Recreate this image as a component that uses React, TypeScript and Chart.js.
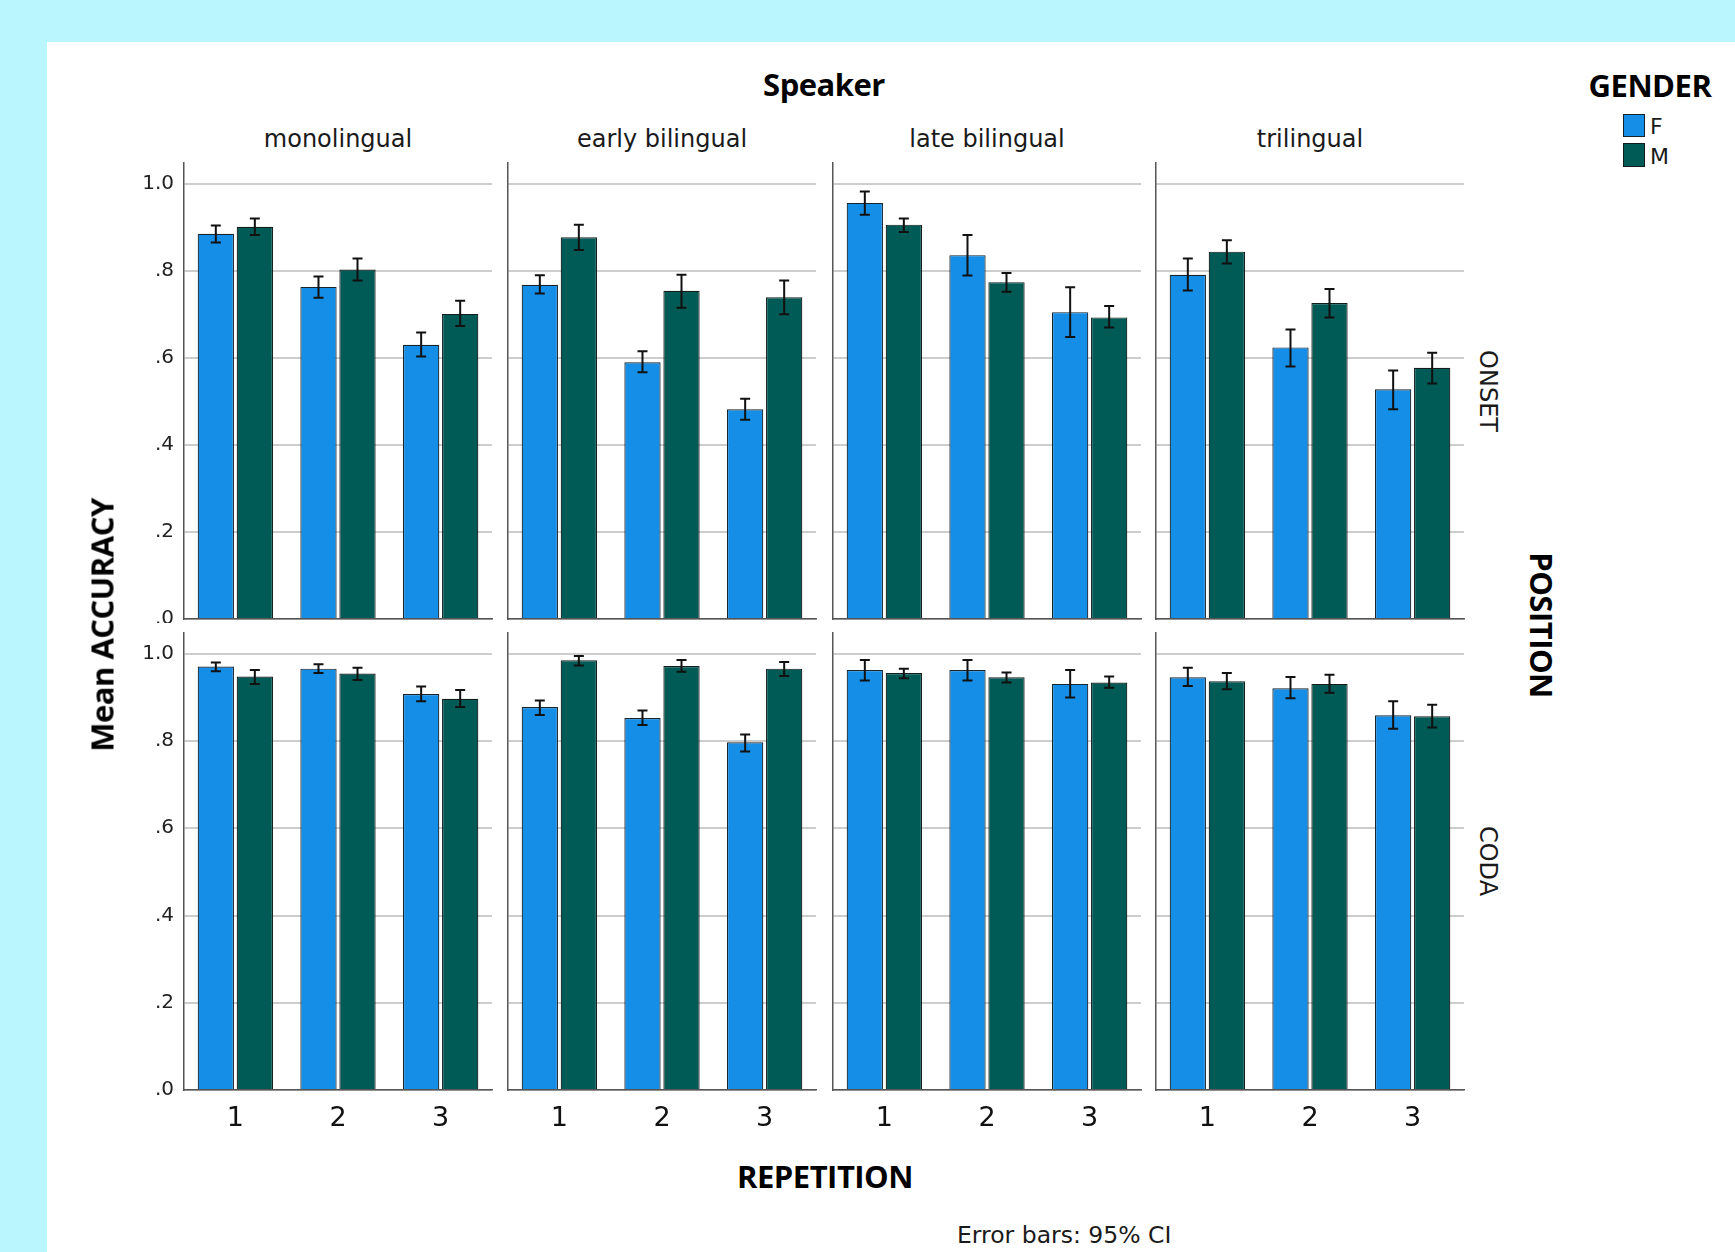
import React, { useEffect, useRef } from "react";
import { Chart, registerables } from "chart.js";

Chart.register(...registerables);

// ---------- data ----------
const speakers = ["monolingual", "early bilingual", "late bilingual", "trilingual"];
const positions = ["ONSET", "CODA"];
const repetitions = ["1", "2", "3"];
const genders = ["F", "M"];
const yTicks = [0, 0.2, 0.4, 0.6, 0.8, 1.0];

// ONSET, per speaker, per repetition
const onsetFMean = [[0.885, 0.763, 0.630], [0.768, 0.590, 0.482], [0.956, 0.836, 0.705], [0.791, 0.624, 0.528]];
const onsetFLow = [[0.865, 0.738, 0.603], [0.748, 0.567, 0.458], [0.929, 0.789, 0.648], [0.755, 0.580, 0.482]];
const onsetFHigh = [[0.904, 0.787, 0.658], [0.790, 0.615, 0.506], [0.982, 0.882, 0.762], [0.828, 0.665, 0.571]];
const onsetMMean = [[0.901, 0.803, 0.701], [0.877, 0.754, 0.739], [0.906, 0.774, 0.693], [0.844, 0.726, 0.577]];
const onsetMLow = [[0.882, 0.778, 0.673], [0.848, 0.715, 0.700], [0.889, 0.752, 0.670], [0.817, 0.693, 0.541]];
const onsetMHigh = [[0.920, 0.828, 0.731], [0.906, 0.791, 0.778], [0.920, 0.795, 0.719], [0.870, 0.758, 0.612]];

// CODA, per speaker, per repetition
const codaFMean = [[0.971, 0.966, 0.908], [0.878, 0.853, 0.797], [0.963, 0.963, 0.931], [0.946, 0.921, 0.859]];
const codaFLow = [[0.960, 0.956, 0.891], [0.860, 0.837, 0.776], [0.939, 0.939, 0.900], [0.926, 0.898, 0.828]];
const codaFHigh = [[0.980, 0.976, 0.925], [0.893, 0.870, 0.815], [0.986, 0.986, 0.963], [0.968, 0.947, 0.891]];
const codaMMean = [[0.948, 0.955, 0.897], [0.985, 0.972, 0.966], [0.956, 0.946, 0.934], [0.937, 0.931, 0.857]];
const codaMLow = [[0.931, 0.940, 0.878], [0.973, 0.959, 0.949], [0.944, 0.934, 0.922], [0.919, 0.911, 0.831]];
const codaMHigh = [[0.963, 0.968, 0.917], [0.995, 0.986, 0.981], [0.966, 0.957, 0.948], [0.956, 0.952, 0.883]];

// ---------- style ----------
const COLOR_F = "#148ee6";
const COLOR_M = "#005b57";
const BG = "#b9f6fe";
const REG_FONT = "'DejaVu Sans', sans-serif";
const BOLD_FONT = "'Open Sans', sans-serif";

const colLeft = [184, 508, 833, 1156];
const panelW = 308;
const rowTop = [162, 632];
const rowBottom = [619, 1090];

function fmtTick(v: number) {
  if (Math.abs(v - 1) < 1e-9) return "1.0";
  return "." + Math.round(v * 10);
}

function Panel({ row, col }: { row: number; col: number }) {
  const ref = useRef<HTMLCanvasElement | null>(null);
  const yw = col === 0 ? 80 : 6;
  const xh = row === 1 ? 60 : 4;
  const padR = 4;
  const plotH = rowBottom[row] - rowTop[row];
  const width = yw + panelW + padR;
  const height = plotH + xh;

  useEffect(() => {
    if (!ref.current) return;
    const fMean = row === 0 ? onsetFMean[col] : codaFMean[col];
    const mMean = row === 0 ? onsetMMean[col] : codaMMean[col];
    const lows = row === 0 ? [onsetFLow[col], onsetMLow[col]] : [codaFLow[col], codaMLow[col]];
    const highs = row === 0 ? [onsetFHigh[col], onsetMHigh[col]] : [codaFHigh[col], codaMHigh[col]];

    const errorBars = {
      id: "errorBars",
      afterDatasetsDraw(chart: any) {
        const ctx = chart.ctx;
        const ys = chart.scales.y;
        ctx.save();
        ctx.strokeStyle = "#111";
        ctx.lineWidth = 2;
        chart.data.datasets.forEach((_: any, di: number) => {
          const meta = chart.getDatasetMeta(di);
          meta.data.forEach((el: any, i: number) => {
            const x = el.x;
            const y1 = ys.getPixelForValue(lows[di][i]);
            const y2 = ys.getPixelForValue(highs[di][i]);
            const cap = 5;
            ctx.beginPath();
            ctx.moveTo(x, y1);
            ctx.lineTo(x, y2);
            ctx.moveTo(x - cap, y1);
            ctx.lineTo(x + cap, y1);
            ctx.moveTo(x - cap, y2);
            ctx.lineTo(x + cap, y2);
            ctx.stroke();
          });
        });
        ctx.restore();
      },
    };

    const chart = new Chart(ref.current, {
      type: "bar",
      data: {
        labels: repetitions,
        datasets: [
          {
            label: genders[0],
            data: fMean,
            backgroundColor: COLOR_F,
            borderColor: "#16232b",
            borderWidth: 1.2,
            categoryPercentage: 0.76,
            barPercentage: 0.93,
          },
          {
            label: genders[1],
            data: mMean,
            backgroundColor: COLOR_M,
            borderColor: "#121c1b",
            borderWidth: 1.2,
            categoryPercentage: 0.76,
            barPercentage: 0.93,
          },
        ],
      },
      options: {
        animation: false,
        responsive: false,
        maintainAspectRatio: false,
        layout: { padding: { left: 0, right: padR, top: 0, bottom: 0 } },
        plugins: { legend: { display: false }, tooltip: { enabled: false }, title: { display: false } },
        scales: {
          x: {
            type: "category",
            offset: true,
            grid: { display: false, drawTicks: false },
            border: { display: true, color: "#555", width: 1.5 },
            ticks: {
              display: row === 1,
              color: "#111",
              padding: 13,
              font: { family: REG_FONT, size: 27 },
            },
            afterFit: (s: any) => {
              s.height = xh;
              s.paddingLeft = 0;
              s.paddingRight = 0;
            },
          },
          y: {
            type: "linear",
            min: 0,
            max: 1.05,
            grid: { display: true, color: "#cdcdcd", lineWidth: 2, drawTicks: false },
            border: { display: true, color: "#555", width: 1.5 },
            afterBuildTicks: (s: any) => {
              s.ticks = yTicks.map((v) => ({ value: v }));
            },
            ticks: {
              display: col === 0,
              color: "#222",
              padding: 10,
              font: { family: REG_FONT, size: 20 },
              callback: (v: any) => fmtTick(Number(v)),
            },
            afterFit: (s: any) => {
              s.width = yw;
              s.paddingTop = 0;
              s.paddingBottom = 0;
            },
          },
        },
      },
      plugins: [errorBars],
    } as any);
    return () => chart.destroy();
  }, [row, col]);

  return (
    <canvas
      ref={ref}
      width={width}
      height={height}
      style={{
        position: "absolute",
        left: colLeft[col] - yw,
        top: rowTop[row],
        width,
        height,
      }}
    />
  );
}

function Label({
  x,
  y,
  text,
  size,
  bold,
  rotate,
  align,
}: {
  x: number;
  y: number;
  text: string;
  size: number;
  bold?: boolean;
  rotate?: number;
  align?: "left" | "center";
}) {
  const tx = align === "left" ? "0" : "-50%";
  return (
    <div
      style={{
        position: "absolute",
        left: x,
        top: y,
        transform: `translate(${tx}, -50%) rotate(${rotate || 0}deg)`,
        fontFamily: bold ? BOLD_FONT : REG_FONT,
        fontWeight: bold ? 700 : 400,
        fontSize: size,
        lineHeight: 1,
        whiteSpace: "nowrap",
        letterSpacing: bold ? -0.5 : 0,
        color: bold ? "#000" : "#1a1a1a",
      }}
    >
      {text}
    </div>
  );
}

export default function App() {
  const cells: React.ReactNode[] = [];
  for (let r = 0; r < positions.length; r++) {
    for (let c = 0; c < speakers.length; c++) {
      cells.push(<Panel key={`${r}-${c}`} row={r} col={c} />);
    }
  }
  return (
    <div
      style={{
        position: "absolute",
        left: 0,
        top: 0,
        width: 1735,
        height: 1252,
        background: BG,
        overflow: "hidden",
      }}
    >
      <div
        style={{
          position: "absolute",
          left: 47,
          top: 42,
          right: 0,
          bottom: 0,
          background: "#fff",
        }}
      />
      {cells}
      <Label x={824} y={84} text="Speaker" size={31} bold />
      {speakers.map((s, i) => (
        <Label key={s} x={colLeft[i] + panelW / 2} y={139} text={s} size={24} />
      ))}
      <Label x={1650} y={85} text="GENDER" size={31} bold />
      <div
        style={{
          position: "absolute",
          left: 1623,
          top: 114,
          width: 22,
          height: 23,
          background: COLOR_F,
          border: "1px solid #16232b",
          boxSizing: "border-box",
        }}
      />
      <div
        style={{
          position: "absolute",
          left: 1623,
          top: 143,
          width: 22,
          height: 24,
          background: COLOR_M,
          border: "1px solid #121c1b",
          boxSizing: "border-box",
        }}
      />
      <Label x={1650} y={127} text={genders[0]} size={22} align="left" />
      <Label x={1650} y={157} text={genders[1]} size={22} align="left" />
      <Label x={102} y={625} text="Mean ACCURACY" size={31} bold rotate={-90} />
      <Label x={1541} y={625} text="POSITION" size={31} bold rotate={90} />
      {positions.map((p, i) => (
        <Label key={p} x={1488} y={(rowTop[i] + rowBottom[i]) / 2} text={p} size={24} rotate={90} />
      ))}
      <Label x={825} y={1176} text="REPETITION" size={31} bold />
      <Label x={957} y={1236} text="Error bars: 95% CI" size={23.5} align="left" />
    </div>
  );
}
